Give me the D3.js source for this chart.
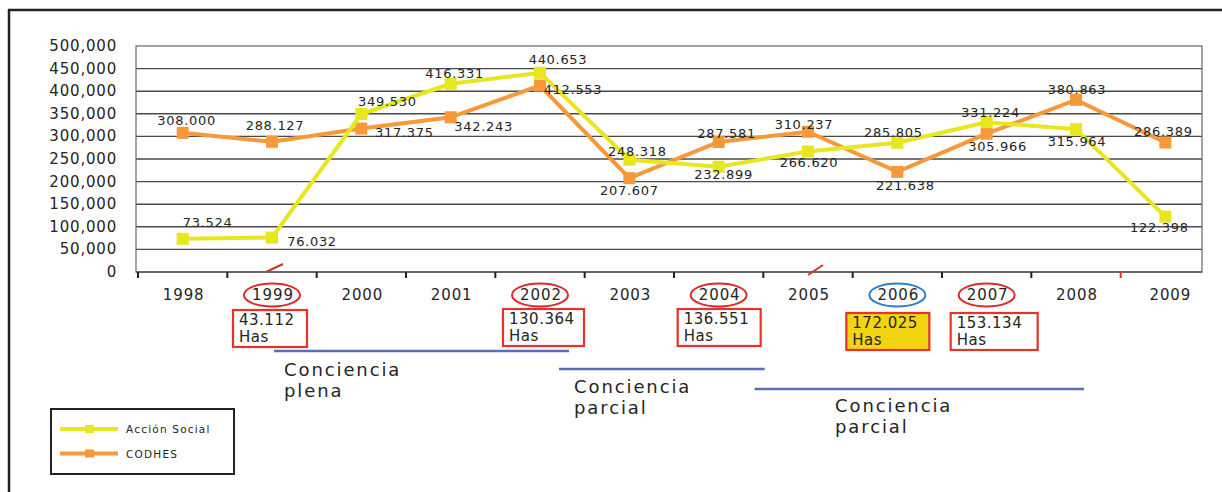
<!DOCTYPE html>
<html>
<head>
<meta charset="utf-8">
<script src="https://d3js.org/d3.v7.min.js"></script>
<style>
  body { margin: 0; background: #fff; }
  text { font-family: "DejaVu Sans", sans-serif; fill: #262424; }
</style>
</head>
<body>
<svg width="1222" height="492"></svg>
<script>
// data
var years = ["1998","1999","2000","2001","2002","2003","2004","2005","2006","2007","2008","2009"];
var accionSocial = [73524, 76032, 349530, 416331, 440653, 248318, 232899, 266620, 285805, 331224, 315964, 122398];
var codhes = [308000, 288127, 317375, 342243, 412553, 207607, 287581, 310237, 221638, 305966, 380863, 286389];
var yTicks = [0, 50000, 100000, 150000, 200000, 250000, 300000, 350000, 400000, 450000, 500000];

// annotated years: hectares
var hasYears = ["1999", "2002", "2004", "2006", "2007"];
var hasValues = ["43.112", "130.364", "136.551", "172.025", "153.134"];

// periods (first year, last year)
var periods = [
  { name: ["Conciencia", "plena"], from: "1999", to: "2002" },
  { name: ["Conciencia", "parcial"], from: "2002", to: "2004" },
  { name: ["Conciencia", "parcial"], from: "2004", to: "2008" }
];

// label offsets (px) from each point, hand placed like the original
var asOff = [[25,-12],[40,8],[26,-8],[4,-6],[18,-9],[8,-4],[5,12],[1,16],[-4,-6],[4,-5],[1,17],[-6,15]];
var coOff = [[4,-8],[3,-12],[43,8],[33,14],[33,8],[0,17],[8,-4],[-4,-3],[8,18],[11,17],[1,-6],[-2,-7]];

var svg = d3.select("svg");
var pLeft = 136, pRight = 1202, pTop = 46, pBottom = 272;

var x = d3.scaleBand().domain(years).range([138, 1210]).padding(0);
var y = d3.scaleLinear().domain([0, 500000]).range([pBottom, pTop]);
var cx = function (d) { return x(d) + x.bandwidth() / 2; };

// outer frame
svg.append("line").attr("x1", 9).attr("x2", 9).attr("y1", 9).attr("y2", 492)
  .attr("stroke", "#222").attr("stroke-width", 2.5);
svg.append("line").attr("x1", 8).attr("x2", 1222).attr("y1", 10).attr("y2", 10)
  .attr("stroke", "#222").attr("stroke-width", 2.5);

// grid
svg.append("g").selectAll("line").data(yTicks.slice(1, 10)).enter().append("line")
  .attr("x1", pLeft).attr("x2", pRight)
  .attr("y1", function (d) { return y(d); }).attr("y2", function (d) { return y(d); })
  .attr("stroke", "#4a4a4a").attr("stroke-width", 1.4);
svg.append("rect").attr("x", pLeft).attr("y", pTop).attr("width", pRight - pLeft).attr("height", pBottom - pTop)
  .attr("fill", "none").attr("stroke", "#666").attr("stroke-width", 1.2);
svg.append("line").attr("x1", pLeft).attr("x2", pRight).attr("y1", pBottom).attr("y2", pBottom)
  .attr("stroke", "#555").attr("stroke-width", 1.4);

// y labels
svg.append("g").selectAll("text").data(yTicks).enter().append("text")
  .attr("x", 117).attr("y", function (d) { return y(d) + 5; })
  .attr("text-anchor", "end").attr("font-size", 15).attr("letter-spacing", 0.8)
  .text(function (d) { return d3.format(",")(d); });

// x ticks
svg.append("g").selectAll("line").data(years).enter().append("line")
  .attr("x1", function (d) { return x(d); }).attr("x2", function (d) { return x(d); })
  .attr("y1", pBottom).attr("y2", pBottom + 6)
  .attr("stroke", function (d) { return d === "2009" ? "#d23a2c" : "#222"; })
  .attr("stroke-width", 2);

// red slash marks
[["1999", -6, 0, 11, -8], ["2005", 0, 3, 15, -7]].forEach(function (s) {
  svg.append("line")
    .attr("x1", cx(s[0]) + s[1]).attr("y1", pBottom + s[2])
    .attr("x2", cx(s[0]) + s[3]).attr("y2", pBottom + s[4])
    .attr("stroke", "#c8372a").attr("stroke-width", 2);
});

// x labels
svg.append("g").selectAll("text").data(years).enter().append("text")
  .attr("x", function (d) { return cx(d) + (d === "2009" ? 5 : 1); }).attr("y", 300)
  .attr("text-anchor", "middle").attr("font-size", 15).attr("letter-spacing", 0.9)
  .text(function (d) { return d; });

// ellipses round the annotated years
svg.append("g").selectAll("ellipse").data(hasYears).enter().append("ellipse")
  .attr("cx", function (d) { return cx(d); }).attr("cy", 295)
  .attr("rx", 28).attr("ry", 11.5)
  .attr("fill", "none").attr("stroke-width", 2)
  .attr("stroke", function (d) { return d === "2006" ? "#2a7fca" : "#e0282a"; });

// hectare boxes
var boxDy = [0, -1, -1, 3, 3];
var boxDx = [-39, -37, -41, -51, -36];
var boxW = [74, 81, 83, 83, 87];
hasYears.forEach(function (yr, i) {
  var bx = cx(yr) + boxDx[i], by = 310 + boxDy[i];
  svg.append("rect").attr("x", bx).attr("y", by).attr("width", boxW[i]).attr("height", 37)
    .attr("fill", yr === "2006" ? "#f2d510" : "#fff")
    .attr("stroke", "#e8312a").attr("stroke-width", 2.2);
  svg.append("text").attr("x", bx + 6).attr("y", by + 15).attr("font-size", 15).attr("letter-spacing", 0.5)
    .text(hasValues[i]);
  svg.append("text").attr("x", bx + 6).attr("y", by + 32).attr("font-size", 15).attr("letter-spacing", 0.5)
    .text("Has");
});

// period lines and labels
var periodY = [351, 369, 389];
var periodX = [[2, 29], [19, 46], [36, 8]];
periods.forEach(function (p, i) {
  var x1 = cx(p.from) + periodX[i][0];
  var x2 = cx(p.to) + periodX[i][1];
  svg.append("line").attr("x1", x1).attr("x2", x2).attr("y1", periodY[i]).attr("y2", periodY[i])
    .attr("stroke", "#5b6cb8").attr("stroke-width", 2.6);
  var tx = [284, 574, 835][i], ty = [376, 393, 412][i];
  p.name.forEach(function (w, j) {
    svg.append("text").attr("x", tx).attr("y", ty + j * 21).attr("font-size", 18).attr("letter-spacing", 1.9)
      .text(w);
  });
});

// series
var series = [
  { name: "CODHES", values: codhes, color: "#f7983a", off: coOff },
  { name: "Acción Social", values: accionSocial, color: "#e8e61e", off: asOff }
];
var line = d3.line().x(function (d) { return cx(d.year); }).y(function (d) { return y(d.v); });
series.forEach(function (s) {
  var pts = years.map(function (yr, i) { return { year: yr, v: s.values[i] }; });
  svg.append("path").datum(pts).attr("d", line).attr("fill", "none")
    .attr("stroke", s.color).attr("stroke-width", 4);
  svg.append("g").selectAll("rect").data(pts).enter().append("rect")
    .attr("x", function (d) { return cx(d.year) - 6; }).attr("y", function (d) { return y(d.v) - 6; })
    .attr("width", 12).attr("height", 12).attr("fill", s.color);
});
series.forEach(function (s) {
  svg.append("g").selectAll("text").data(years).enter().append("text")
    .attr("x", function (d, i) { return cx(d) + s.off[i][0]; })
    .attr("y", function (d, i) { return y(s.values[i]) + s.off[i][1]; })
    .attr("text-anchor", "middle").attr("font-size", 13).attr("letter-spacing", 0.7)
    .text(function (d, i) { return d3.format(",")(s.values[i]).replace(",", "."); });
});

// legend
svg.append("rect").attr("x", 51).attr("y", 409).attr("width", 183).attr("height", 65)
  .attr("fill", "#fff").attr("stroke", "#222").attr("stroke-width", 2);
series.slice().reverse().forEach(function (s, i) {
  var ly = 429 + i * 24.5;
  svg.append("line").attr("x1", 60).attr("x2", 118).attr("y1", ly).attr("y2", ly)
    .attr("stroke", s.color).attr("stroke-width", 4);
  svg.append("rect").attr("x", 85).attr("y", ly - 4).attr("width", 9).attr("height", 8).attr("fill", s.color);
  svg.append("text").attr("x", 126).attr("y", ly + 4).attr("font-size", 10.5).attr("letter-spacing", 1.2)
    .text(s.name);
});
</script>
</body>
</html>
